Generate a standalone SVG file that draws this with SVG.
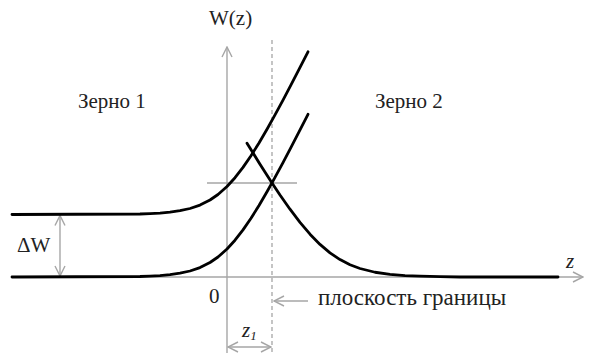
<svg xmlns="http://www.w3.org/2000/svg" width="592" height="356" viewBox="0 0 592 356">
<style>
.ax{fill:none;stroke:#a6a6a6;stroke-width:1.4}
.dash{fill:none;stroke:#a6a6a6;stroke-width:1.3;stroke-dasharray:4 3}
.cv{fill:none;stroke:#000;stroke-width:2.8;stroke-linejoin:round;stroke-linecap:round}
.t{font-family:'Liberation Serif','DejaVu Serif',serif;font-size:21px;fill:#222}
.ti{font-family:'Liberation Serif','DejaVu Serif',serif;font-style:italic;fill:#222}
</style>
<defs>
<marker id="ah" viewBox="0 0 12 12" refX="11" refY="6" markerWidth="12" markerHeight="12" markerUnits="userSpaceOnUse" orient="auto-start-reverse">
<path d="M1,1 L11,6 L1,11" fill="none" stroke="#a6a6a6" stroke-width="1.4"/>
</marker>
</defs>
<g id="connectors">
<line class="ax" x1="12" y1="277" x2="583" y2="277" marker-end="url(#ah)"/>
<line class="ax" x1="227" y1="353" x2="227" y2="47" marker-end="url(#ah)"/>
<line class="dash" x1="272" y1="40" x2="272" y2="353"/>
<line class="ax" x1="207" y1="183" x2="297" y2="183"/>
<line class="ax" x1="60" y1="215.5" x2="60" y2="276" marker-start="url(#ah)" marker-end="url(#ah)"/>
<line class="ax" x1="228" y1="347" x2="271" y2="347" marker-start="url(#ah)" marker-end="url(#ah)"/>
<line class="ax" x1="308" y1="301" x2="274" y2="301" marker-end="url(#ah)"/>
</g>
<g id="curve-upper">
<path class="cv" d="M12,214.5 L140,214 L150,213.6 L160,213.1 L170,212.2 L180,210.7 L190,208.5 L200,205.1 L210,200 L218,194.5 L227,186.5 L235,177.7 L243,167.4 L251,155.75 L259,143 L267,129.3 L275,114.9 L283,100.1 L291,84.85 L299,69.4 L308,51.8"/>
</g>
<g id="curve-lower">
<path class="cv" transform="translate(0,62.5)" d="M12,214.5 L140,214 L150,213.6 L160,213.1 L170,212.2 L180,210.7 L190,208.5 L200,205.1 L210,200 L218,194.5 L227,186.5 L235,177.7 L243,167.4 L251,155.75 L259,143 L267,129.3 L275,114.9 L283,100.1 L291,84.85 L299,69.4 L308,51.8"/>
</g>
<g id="curve-decay">
<path class="cv" d="M247,143.2 L252,151.3 L260,164.2 L268,176.8 L272,182.95 L280,195 L290,209.2 L300,222.4 L310,234.2 L320,244.4 L330,252.9 L340,259.6 L350,264.8 L360,268.5 L375,272.25 L390,274.4 L405,275.6 L420,276.2 L440,276.7 L460,277 L558,277"/>
</g>
<g id="labels">
<text class="t" x="209" y="25">W(z)</text>
<text class="t" x="78" y="108">Зерно 1</text>
<text class="t" x="375" y="108">Зерно 2</text>
<text class="t" x="17" y="252">ΔW</text>
<text class="t" x="209" y="303">0</text>
<text class="t" x="318" y="305" style="font-size:23px">плоскость границы</text>
<text class="ti" x="566" y="268" font-size="21">z</text>
<text class="ti" x="242" y="337" font-size="21">z<tspan font-size="13" dy="3">1</tspan></text>
</g>
</svg>
